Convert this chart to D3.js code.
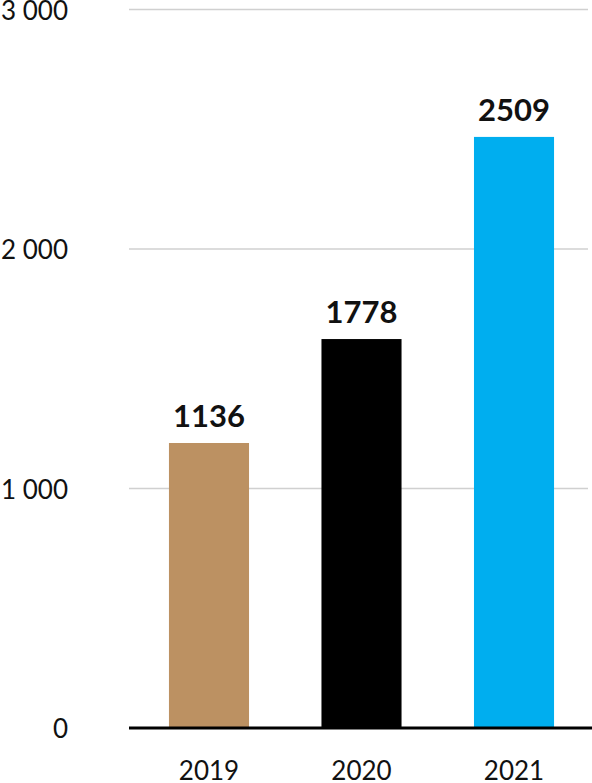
<!DOCTYPE html>
<html>
<head>
<meta charset="utf-8">
<script src="https://d3js.org/d3.v7.min.js"></script>
<style>
  body { margin: 0; background: #fff; }
  svg { display: block; font-family: Lato, "Open Sans", sans-serif; }
</style>
</head>
<body>
<div id="chart"></div>
<script>
// ##### data #####
var years = ["2019", "2020", "2021"];
var barValues = [1190, 1624, 2468];       // bar heights as drawn
var barLabels = ["1136", "1778", "2509"]; // labels printed above bars
var barColors = ["#bc9162", "#000000", "#00aeef"];
var yTicks = [0, 1000, 2000, 3000];

var W = 592, H = 783;
var margin = {top: 9.5, right: 0, bottom: 55, left: 129};
var width = W - margin.left - margin.right;
var height = H - margin.top - margin.bottom;

var svg = d3.select("#chart").append("svg")
	.attr("width", W)
	.attr("height", H);

var g = svg.append("g").attr("transform", "translate(" + margin.left + "," + margin.top + ")");

var x = d3.scaleBand().domain(years).range([0, 465]).paddingInner(0.475).paddingOuter(0.262);
var y = d3.scaleLinear().domain([0, 3000]).range([height, 0]);

// gridlines
g.selectAll(".grid")
	.data(yTicks.slice(1))
	.enter().append("line")
	  .attr("class", "grid")
	  .attr("x1", 0)
	  .attr("x2", 459)
	  .attr("y1", function(d) { return y(d); })
	  .attr("y2", function(d) { return y(d); })
	  .attr("stroke", "#d0d0d0")
	  .attr("stroke-width", 1.5);

// y tick labels
var fmt = function(d) { return d3.format(",")(d).replace(/,/g, " "); };
g.selectAll(".ylab")
	.data(yTicks)
	.enter().append("text")
	  .attr("class", "ylab")
	  .attr("x", -61)
	  .attr("y", function(d) { return y(d); })
	  .attr("dy", "0.4em")
	  .attr("text-anchor", "end")
	  .style("font-size", "26px")
	  .attr("fill", "#111")
	  .text(fmt);

// bars
g.selectAll(".bar")
	.data(years)
	.enter().append("rect")
	  .attr("class", "bar")
	  .attr("x", function(d) { return x(d); })
	  .attr("width", x.bandwidth())
	  .attr("y", function(d, i) { return y(barValues[i]); })
	  .attr("height", function(d, i) { return height - y(barValues[i]); })
	  .attr("fill", function(d, i) { return barColors[i]; });

// value labels
g.selectAll(".vlab")
	.data(years)
	.enter().append("text")
	  .attr("class", "vlab")
	  .attr("x", function(d) { return x(d) + x.bandwidth() / 2; })
	  .attr("y", function(d, i) { return y(barValues[i]) - 16; })
	  .attr("text-anchor", "middle")
	  .style("font-size", "31px")
	  .style("font-weight", "bold")
	  .attr("fill", "#111")
	  .text(function(d, i) { return barLabels[i]; });

// baseline
g.append("line")
	.attr("x1", 0).attr("x2", 463)
	.attr("y1", height).attr("y2", height)
	.attr("stroke", "#000")
	.attr("stroke-width", 3);

// x axis labels
g.selectAll(".xlab")
	.data(years)
	.enter().append("text")
	  .attr("class", "xlab")
	  .attr("x", function(d) { return x(d) + x.bandwidth() / 2; })
	  .attr("y", height + 52)
	  .attr("text-anchor", "middle")
	  .style("font-size", "26px")
	  .attr("fill", "#111")
	  .text(function(d) { return d; });
</script>
</body>
</html>
